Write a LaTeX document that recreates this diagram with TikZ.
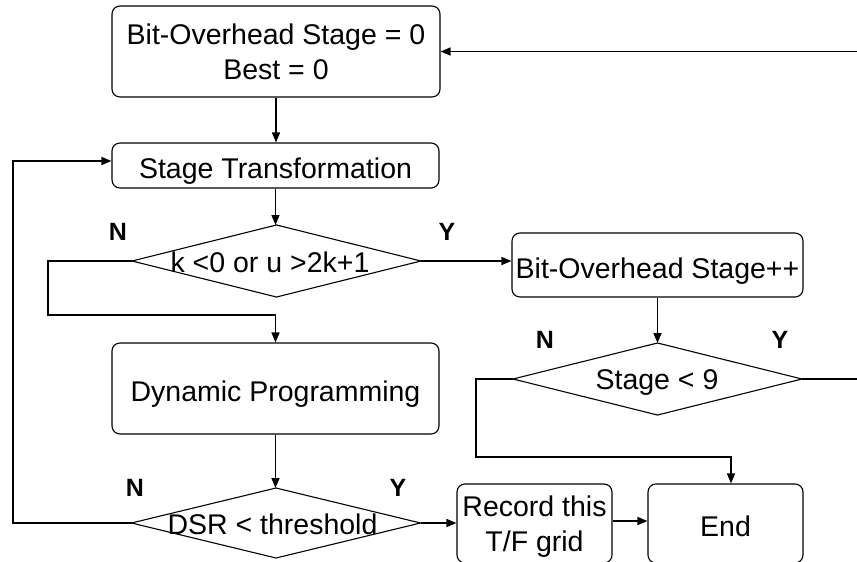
\documentclass[tikz,border=0pt]{standalone}
\usepackage{fontspec}
\setmainfont{Liberation Sans}
\usetikzlibrary{shapes.geometric,arrows.meta}

\begin{document}
\begin{tikzpicture}[x=1pt,y=-1pt,
  box/.style={draw,line width=1.1pt,rounded corners=8pt,inner sep=0pt,align=center,
              font=\fontsize{28.5}{35}\selectfont},
  oneline/.style={text height=30pt,text depth=3.6pt},
  dia/.style={draw,diamond,line width=1.1pt,inner sep=0pt,outer sep=0pt,
              minimum width=289pt,minimum height=72pt},
  lbl/.style={font=\fontsize{28.5}{35}\selectfont,inner sep=0pt,
              text height=24pt,text depth=3.6pt},
  yn/.style={font=\fontsize{25}{30}\selectfont\bfseries,inner sep=0pt},
  flow/.style={line width=1.5pt,-{Triangle[length=10pt,width=8pt]}},
  wire/.style={line width=1.5pt},
]
\clip (0,0) rectangle (857,562);

% process boxes
\node[box,minimum width=328pt,minimum height=91pt] (b1) at (276,51.5) {Bit-Overhead Stage = 0\\Best = 0};
\node[box,oneline,minimum width=327pt,minimum height=45pt] (b2) at (275.5,165.5) {Stage Transformation};
\node[box,oneline,minimum width=291pt,minimum height=64pt] (b3) at (657.5,265) {Bit-Overhead Stage++};
\node[box,oneline,minimum width=327pt,minimum height=91pt] (b4) at (275.5,388.5) {Dynamic Programming};
\node[box,text depth=0pt,minimum width=155pt,minimum height=79pt] (b5) at (534.5,523.5) {Record this\\T/F grid};
\node[box,oneline,minimum width=155pt,minimum height=79pt] (b6) at (725.5,523.5) {End};

% decisions
\node[dia] (d1) at (276.5,261) {};
\node[lbl] (t1) at (270,262) {k <0 or u >2k+1};
\node[dia] (d2) at (657.5,379) {};
\node[lbl] (t2) at (657,379) {Stage < 9};
\node[dia,minimum height=70pt] (d3) at (276,523) {};
\node[lbl] (t3) at (272.5,524) {DSR < threshold};

% branch labels
\node[yn] (n1l) at (118,231.5) {N};
\node[yn] (y1l) at (447,231.5) {Y};
\node[yn] (n2l) at (545,340) {N};
\node[yn] (y2l) at (780,340) {Y};
\node[yn] (n3l) at (135,488) {N};
\node[yn] (y3l) at (398,488) {Y};

% bend points
\coordinate (c1) at (48,315);
\coordinate (c2) at (476,457);
\coordinate (c2b) at (731,457);
\coordinate (c3) at (13,161);
\coordinate (r1) at (857,51.5);

% connectors
\draw[flow] (b1.south) -- (b1.south |- b2.north);
\draw[flow] (b2.south) -- (b2.south |- d1.north);
\draw[flow] (d1.east) -- (d1.east -| b3.west);
\draw[flow] (d1.west) -| (c1) -| (b4.north);
\draw[flow] (b3.south) -- (b3.south |- d2.north);
\draw[flow] (d2.west) -| (c2) -- (c2b) -- (c2b |- b6.north);
\draw[wire] (d2.east) -- (d2.east -| r1);
\draw[flow] (r1) -- (b1.east);
\draw[flow] (b4.south) -- (b4.south |- d3.north);
\draw[flow] (d3.east) -- (d3.east -| b5.west);
\draw[flow] (d3.west) -| (c3) -- (c3 -| b2.west);
\draw[flow] (b5.east |- 0,521) -- (b6.west |- 0,521);
\end{tikzpicture}
\end{document}
